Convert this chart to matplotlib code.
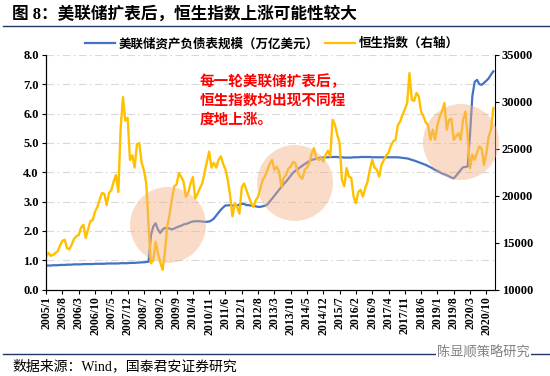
import matplotlib
matplotlib.use('Agg')
import matplotlib.pyplot as plt
from matplotlib.patches import Ellipse
from matplotlib.lines import Line2D

plt.rcParams['font.family'] = ['Liberation Serif', 'Noto Sans CJK SC']
plt.rcParams['font.weight'] = 'bold'

# monthly values, 2005/1 .. 2021/1
fed = [0.82, 0.82, 0.82, 0.83, 0.83, 0.83, 0.84, 0.84, 0.84, 0.85, 0.85, 0.85,
       0.86, 0.86, 0.86, 0.86, 0.87, 0.87, 0.87, 0.87, 0.87, 0.88, 0.88, 0.88,
       0.88, 0.88, 0.89, 0.89, 0.89, 0.89, 0.89, 0.89, 0.90, 0.90, 0.90, 0.90,
       0.91, 0.91, 0.91, 0.92, 0.92, 0.93, 0.93, 0.94, 0.95, 1.85, 2.15, 2.26,
       2.05, 1.93, 2.05, 2.10, 2.10, 2.08, 2.05, 2.08, 2.12, 2.15, 2.18, 2.22,
       2.24, 2.26, 2.30, 2.32, 2.33, 2.33, 2.33, 2.32, 2.31, 2.31, 2.32, 2.36,
       2.42, 2.52, 2.62, 2.72, 2.80, 2.87, 2.87, 2.88, 2.86, 2.86, 2.86, 2.90,
       2.92, 2.92, 2.88, 2.88, 2.86, 2.86, 2.84, 2.82, 2.82, 2.84, 2.86, 2.90,
       3.00, 3.10, 3.20, 3.30, 3.40, 3.50, 3.60, 3.68, 3.78, 3.88, 3.98, 4.05,
       4.10, 4.17, 4.22, 4.28, 4.33, 4.38, 4.42, 4.44, 4.46, 4.48, 4.50, 4.50,
       4.51, 4.51, 4.52, 4.52, 4.52, 4.52, 4.51, 4.51, 4.50, 4.50, 4.50, 4.50,
       4.51, 4.51, 4.51, 4.52, 4.52, 4.52, 4.52, 4.52, 4.51, 4.51, 4.51, 4.51,
       4.51, 4.51, 4.51, 4.51, 4.51, 4.51, 4.51, 4.51, 4.50, 4.49, 4.48, 4.47,
       4.45, 4.42, 4.40, 4.37, 4.34, 4.31, 4.28, 4.25, 4.21, 4.17, 4.13, 4.08,
       4.05, 4.00, 3.96, 3.93, 3.90, 3.86, 3.82, 3.79, 3.88, 3.98, 4.08, 4.17,
       4.18, 4.20, 5.30, 6.60, 7.08, 7.15, 7.00, 6.98, 7.05, 7.12, 7.20, 7.33,
       7.44]

hsi = [13500, 13900, 13600, 13700, 13900, 14100, 14700, 15200, 15300, 14400, 14300, 14800,
       15400, 15700, 15800, 16600, 16900, 15500, 16400, 17300, 17400, 18300, 18800, 19600,
       20300, 20200, 19000, 20300, 20600, 21500, 22200, 20400, 27200, 30500, 28000, 28300,
       23800, 24300, 23000, 25500, 25600, 23500, 22700, 21300, 16700, 12800, 13100, 15100,
       13900, 12900, 12100, 14000, 16700, 18000, 19600, 21000, 21200, 22400, 22000, 21500,
       19900, 20300, 21300, 22000, 19700, 20200, 20800, 21300, 22400, 23600, 24700, 23000,
       23500, 23000, 23800, 24200, 23400, 22800, 21700, 20000, 17800, 19200, 18800, 18100,
       20900, 21300, 20600, 19900, 19200, 18800, 19500, 19900, 20800, 21700, 22100, 22760,
       23400, 23800, 22760, 23100, 22600, 20970, 21900, 22220, 22900, 23100, 23600, 23480,
       22500, 22040, 21800, 22760, 23000, 23480, 24500, 25070, 24000, 23800, 24000, 23650,
       24360, 24800, 24200, 28090, 27560, 26500, 25600, 21700, 21000, 22940, 22040, 21900,
       19900, 19200, 20400, 20630, 19900, 20800, 21500, 22800, 23830, 23000, 22760, 22040,
       23300, 23800, 24300, 24550, 25300, 25800, 25950, 27500, 27900, 28620, 29200, 29870,
       33060, 30220, 30100, 30940, 30560, 28970, 28440, 27800, 27500, 25950, 27030, 25950,
       27500, 28440, 29000, 29870, 27030, 28090, 28200, 25950, 26300, 26660, 25950, 28100,
       28970, 26300, 22940, 24400, 23830, 24600, 25250, 25000, 23290, 24500, 26300, 27030,
       29340]

tick_labels = ['2005/1', '2005/8', '2006/3', '2006/10', '2007/5', '2007/12', '2008/7',
               '2009/2', '2009/9', '2010/4', '2010/11', '2011/6', '2012/1', '2012/8',
               '2013/3', '2013/10', '2014/5', '2014/12', '2015/7', '2016/2', '2016/9',
               '2017/4', '2017/11', '2018/6', '2019/1', '2019/8', '2020/3', '2020/10']

blue = '#4472C4'
gold = '#FFC000'
navy = '#1F3864'

x = list(range(len(fed)))

fig = plt.figure(figsize=(5.5, 3.76), dpi=100)
ax = fig.add_axes([0.083, 0.2298, 0.8165, 0.6242])
ax2 = ax.twinx()

for gy in range(1, 9):
    ax.axhline(gy, color='#D9D9D9', lw=0.8, ls=(0, (7, 3, 1.5, 3)), zorder=0)

ax.plot(x, fed, color=blue, lw=1.6)
ax2.plot(x, hsi, color=gold, lw=1.7)

ax.set_ylim(0, 8)
ax.set_yticks(range(9))
ax.set_yticklabels(['%.1f' % v for v in range(9)], fontsize=9)
ax2.set_ylim(10000, 35000)
ax2.set_yticks(range(10000, 35001, 5000))
ax2.set_yticklabels([str(v) for v in range(10000, 35001, 5000)], fontsize=9)

ax.set_xlim(-0.2, 192.6)
ax.set_xticks(range(0, 190, 7))
ax.set_xticklabels(tick_labels, rotation=90, fontsize=8.5)

for a in (ax, ax2):
    a.spines['top'].set_visible(False)
    a.tick_params(direction='out', length=3, width=0.8, pad=2)
ax.spines['right'].set_visible(False)

# shaded circles
for cx, cy in [(168, 225), (295, 183), (461, 142)]:
    fig.add_artist(Ellipse((cx / 550, 1 - cy / 376), 76 / 550, 76 / 376,
                           transform=fig.transFigure, facecolor='#F4B183',
                           edgecolor='none', alpha=0.45, zorder=5))

# legend
handles = [Line2D([], [], color=blue, lw=1.6), Line2D([], [], color=gold, lw=1.6)]
fig.legend(handles, ['美联储资产负债表规模（万亿美元）', '恒生指数（右轴）'],
           loc='center', bbox_to_anchor=(0.495, 1 - 44 / 376), ncol=2, frameon=False,
           fontsize=9, handlelength=2.4, handletextpad=0.3, columnspacing=0.5)

# red note
note = ['每一轮美联储扩表后，', '恒生指数均出现不同程', '度地上涨。']
for i, line in enumerate(note):
    fig.text(200 / 550, 1 - (81.5 + 19 * i) / 376, line, color='#FF0000',
             fontsize=10.5, va='center', ha='left')

# title and footer
fig.text(12 / 550, 1 - 14 / 376, '图 8：美联储扩表后，恒生指数上涨可能性较大',
         fontsize=12, va='center', ha='left')
fig.add_artist(Line2D([0.005, 1], [1 - 25.5 / 376] * 2, color=navy, lw=1,
                      transform=fig.transFigure))
fig.add_artist(Line2D([0.005, 1], [1 - 354 / 376] * 2, color=navy, lw=1,
                      transform=fig.transFigure))
fig.text(12 / 550, 1 - 366 / 376, '数据来源：Wind，国泰君安证券研究',
         fontsize=10, fontweight='normal', va='center', ha='left')
fig.text(437 / 550, 1 - 353 / 376, '陈显顺策略研究', color='#808080',
         fontsize=9.5, fontweight='normal', va='center', ha='left',
         bbox=dict(facecolor='white', edgecolor='none', pad=1), zorder=6)

fig.savefig('out.png', dpi=100)
